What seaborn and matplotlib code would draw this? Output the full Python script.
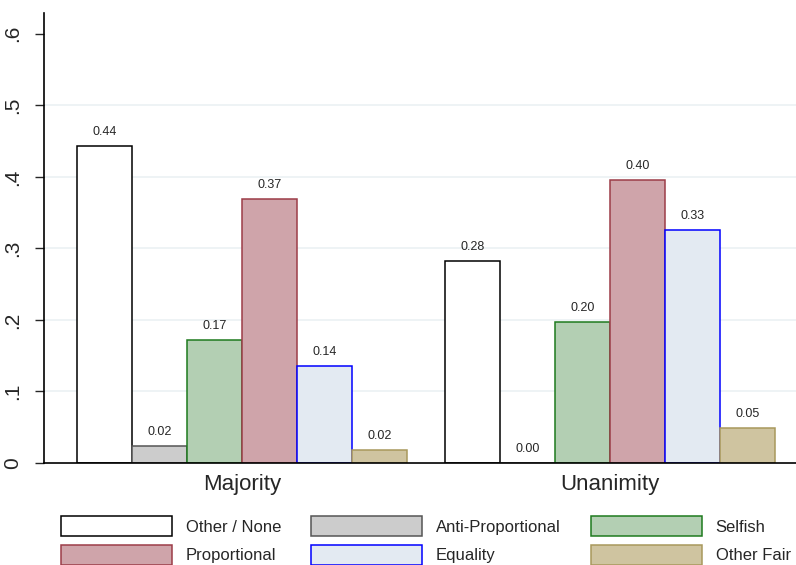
import matplotlib
matplotlib.use("Agg")
import matplotlib.pyplot as plt
import seaborn as sns
import pandas as pd
from matplotlib.ticker import FixedLocator, FuncFormatter

rules = ["Majority", "Unanimity"]
types = ["Other / None", "Anti-Proportional", "Selfish", "Proportional", "Equality", "Other Fair"]
majority = [0.443, 0.024, 0.172, 0.369, 0.136, 0.018]
unanimity = [0.283, 0.0, 0.197, 0.396, 0.326, 0.049]
fills = ["#ffffff", "#cccccc", "#b3cfb3", "#cfa4aa", "#e3eaf2", "#cfc4a0"]
edges = ["#000000", "#555555", "#1e7a1e", "#9c3c48", "#0000ff", "#a8985c"]
yticks = [0, 0.1, 0.2, 0.3, 0.4, 0.5, 0.6]

rows = []
for r, vals in zip(rules, [majority, unanimity]):
    for t, v in zip(types, vals):
        rows.append({"rule": r, "type": t, "share": v})
df = pd.DataFrame(rows)

sns.set_style("white")
plt.rcParams["font.family"] = ["Liberation Sans", "DejaVu Sans"]

fig = plt.figure(figsize=(7.96, 5.65), dpi=100)
ax = fig.add_axes([44 / 796, (565 - 463) / 565, 1 - 44 / 796, 450 / 565])

sns.barplot(data=df, x="rule", y="share", hue="type", order=rules, hue_order=types,
            palette=fills, width=0.897, ax=ax, legend=False, saturation=1)

for cont, ec in zip(ax.containers, edges):
    for p in cont:
        p.set_edgecolor(ec)
        p.set_linewidth(1.1)
    ax.bar_label(cont, fmt="%.2f", padding=5.5, fontsize=9)

ax.set_xlim((44 - 242) / 368, (796 - 242) / 368)
ax.set_ylim(0, 0.629)
ax.yaxis.set_major_locator(FixedLocator(yticks))
ax.yaxis.set_major_formatter(FuncFormatter(lambda v, p: "0" if v == 0 else ("%.1f" % v).lstrip("0")))
ax.tick_params(axis="y", direction="out", length=6.5, width=1, labelsize=15, labelrotation=90, pad=9, left=True)
for lab in ax.get_yticklabels():
    lab.set_va("center")
ax.tick_params(axis="x", length=0, labelsize=16, pad=8)
ax.set_xlabel("")
ax.set_ylabel("")
ax.set_axisbelow(True)
ax.yaxis.grid(True, color="#edf2f4", linewidth=1.3)
gl = ax.yaxis.get_gridlines()
gl[0].set_visible(False)
gl[-1].set_visible(False)

for s in ["top", "right"]:
    ax.spines[s].set_visible(False)
for s in ["left", "bottom"]:
    ax.spines[s].set_color("black")
    ax.spines[s].set_linewidth(1.2)

# legend filled row-wise like the reference (matplotlib fills column-wise)
order = [0, 3, 1, 4, 2, 5]
handles = [plt.Rectangle((0, 0), 1, 1, facecolor=fills[i], edgecolor=edges[i], linewidth=1.1) for i in order]
labels = [types[i] for i in order]
fig.legend(handles, labels, loc="upper left", bbox_to_anchor=(61 / 796, 1 - 516 / 565),
           ncol=3, frameon=False, fontsize=12, handlelength=6.65, handleheight=1.5,
           handletextpad=0.84, columnspacing=1.8, labelspacing=0.5, borderpad=0, borderaxespad=0)

fig.savefig("out.png", dpi=100)
